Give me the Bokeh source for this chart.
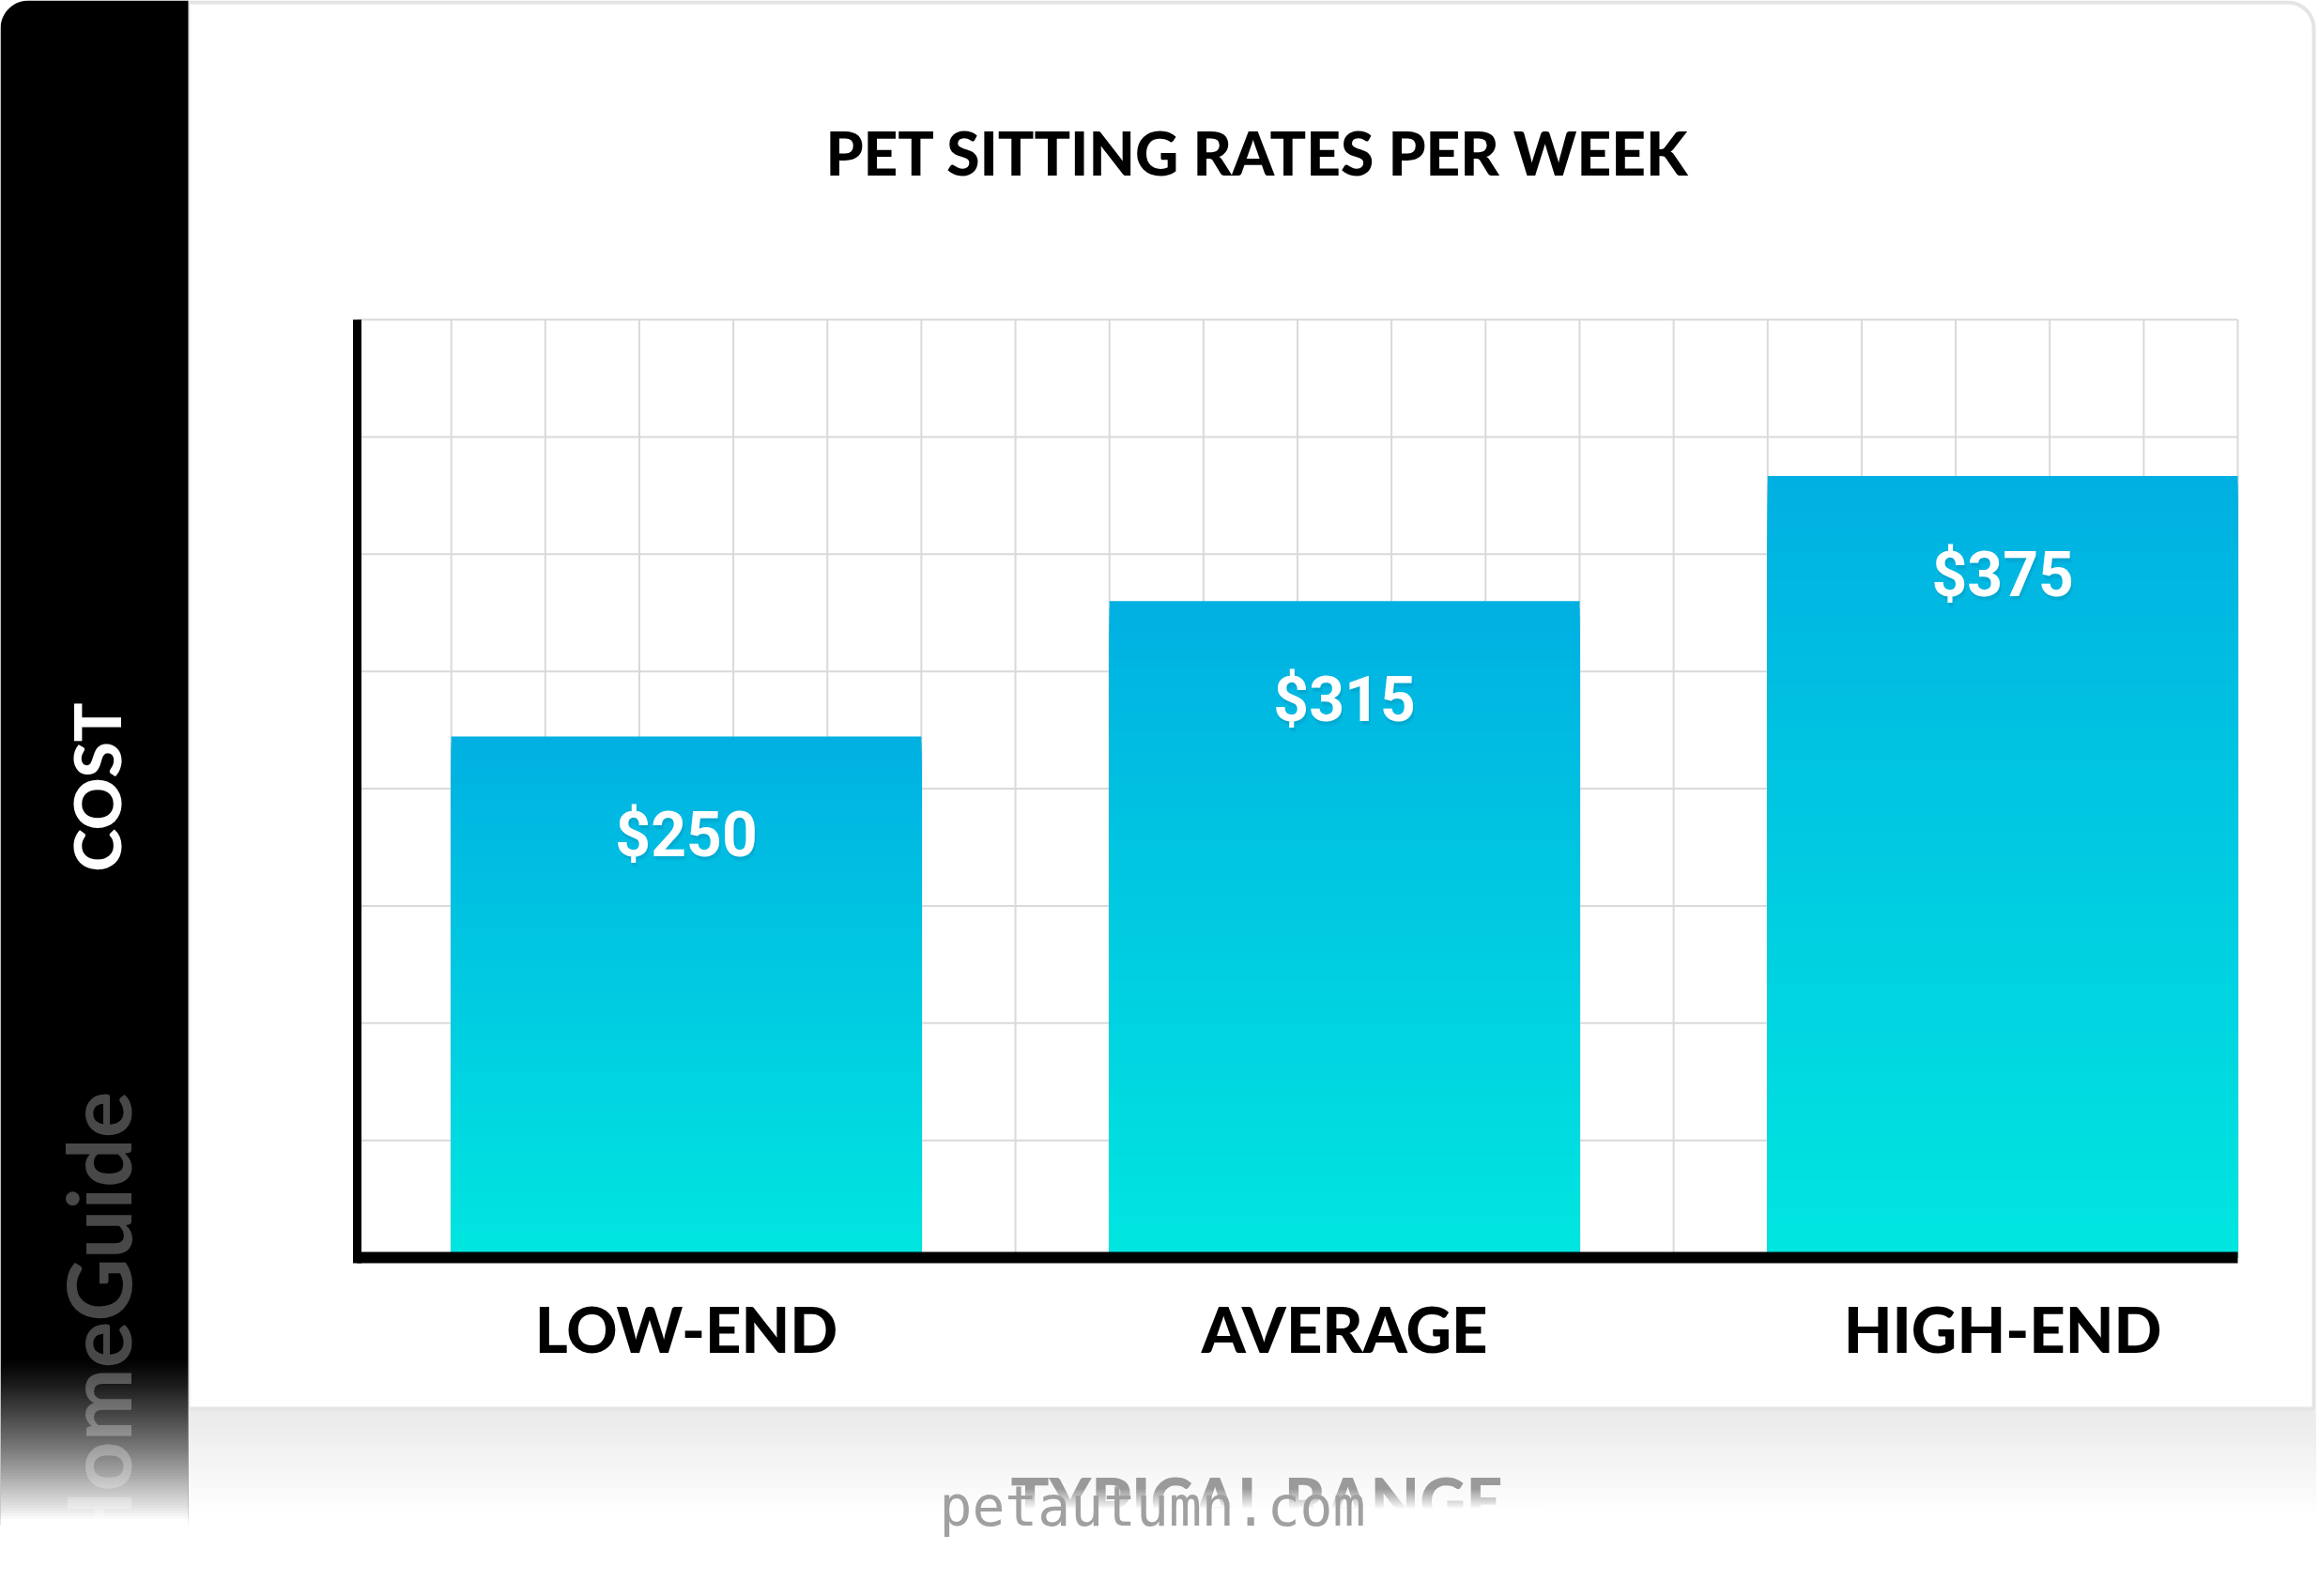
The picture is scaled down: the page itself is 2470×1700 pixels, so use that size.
import numpy as np
from bokeh.plotting import figure
from bokeh.models import Range1d
from bokeh.core.properties import value
from bokeh.embed import file_html
from bokeh.resources import INLINE

# ---- chart content ----
categories = ["LOW-END", "AVERAGE", "HIGH-END"]
costs = [250, 315, 375]
chart_title = "PET SITTING RATES PER WEEK"
axis_title = "COST"
range_title = "TYPICAL RANGE"
brand = "HomeGuide"
site = "petautumn.com"
y_max = 450
y_divisions = 8

# ---- page layout (px, measured from the top-left corner) ----
W, H = 2470, 1700
PANEL_W = 200
CARD_R = 2464
CARD_B = 1500
PLOT_L, PLOT_R, PLOT_T, PLOT_B = 380, 2383, 340, 1339
SLOT = 7        # grid columns per category
BAR_COLS = 5    # grid columns covered by a bar
n_cols = SLOT * len(categories) - 1

BAR_TOP = (0, 176, 226)
BAR_BOTTOM = (0, 230, 224)
GRID = "#d9d9d9"
HEAD_FONT = value("Lato Black")
BRAND_FONT = value("Lato")
NUM_FONT = value("Roboto")


def mix(c0, c1, t):
    return "#%02x%02x%02x" % tuple(int(round(a + (b - a) * t)) for a, b in zip(c0, c1))


def white_ramp(x0, x1, y0, y1, y_end, steps, power=1.0):
    """White veil whose opacity rises from 0 at y0 to 1 at y1 (overlapping layers, no seams)."""
    ys = np.linspace(y0, y1, steps + 1)[1:]
    target = np.linspace(0, 1, steps + 1)[1:] ** power
    prev = np.concatenate([[0.0], target[:-1]])
    alpha = np.where(target >= 1, 1.0, 1 - (1 - target) / (1 - prev))
    p.quad(left=x0, right=x1, top=ys - (y1 - y0) / steps, bottom=y_end,
           fill_color="white", fill_alpha=list(alpha), line_color=None)


p = figure(width=W, height=H, x_range=Range1d(0, W), y_range=Range1d(H, 0),
           output_backend="svg", toolbar_location=None, min_border=0,
           x_axis_location=None, y_axis_location=None,
           background_fill_color="white", border_fill_color="white",
           outline_line_color=None)
p.grid.visible = False

# chart coordinates: x in grid columns, y in dollars
ux = (PLOT_R - PLOT_L) / n_cols
uy = (PLOT_B - PLOT_T) / y_max
p.extra_x_ranges = {"cx": Range1d(-PLOT_L / ux, (W - PLOT_L) / ux)}
p.extra_y_ranges = {"cy": Range1d(-(H - PLOT_B) / uy, PLOT_B / uy)}
chart = dict(x_range_name="cx", y_range_name="cy")

# ---- card and its soft reflection (overlapping layers, lighter further down) ----
band_tops = np.arange(CARD_B, 1616, 4)
p.quad(left=PANEL_W, right=CARD_R + 2, top=band_tops, bottom=1620,
       fill_color=[mix((234,) * 3, (255,) * 3, t) for t in np.linspace(0, 1, len(band_tops))],
       line_color=None)

r = 28
t = np.linspace(1.5 * np.pi, 2 * np.pi, 16)
card_x = [PANEL_W] + list(CARD_R - r + r * np.cos(t)) + [CARD_R, PANEL_W]
card_y = [2] + list(2 + r + r * np.sin(t)) + [CARD_B, CARD_B]
p.patch(card_x, card_y, fill_color="white", line_color="#e4e4e4", line_width=4)

# ---- black side panel ----
r = 30
t = np.linspace(np.pi, 1.5 * np.pi, 16)
pan_x = list(r + r * np.cos(t)) + [PANEL_W, PANEL_W, 0]
pan_y = list(r + r * np.sin(t)) + [0, 1624, 1624]
p.patch(pan_x, pan_y, fill_color="black", line_color=None)

p.text(x=[102], y=[838], text=[axis_title], angle=np.pi / 2,
       text_align="center", text_baseline="middle", text_color="white",
       text_font=HEAD_FONT, text_font_size="69px")
p.text(x=[103], y=[1162], text=[brand], angle=np.pi / 2,
       text_align="right", text_baseline="alphabetic", text_color="#484848",
       text_font=BRAND_FONT, text_font_style="bold", text_font_size="93px")

# fade of the panel into the page
white_ramp(0, PANEL_W, 1448, 1620, H, 60, power=1.1)

# ---- grid ----
col_ticks = np.arange(1, n_cols + 1)
row_ticks = np.linspace(0, y_max, y_divisions + 1)[1:]
p.segment(x0=col_ticks, y0=0, x1=col_ticks, y1=y_max, line_color=GRID, line_width=2, **chart)
p.segment(x0=0, y0=row_ticks, x1=n_cols, y1=row_ticks, line_color=GRID, line_width=2, **chart)

# ---- bars with a vertical gradient (stacked shrinking layers) ----
centers = [SLOT * i + SLOT / 2 for i in range(len(categories))]
layers = 90
lefts, rights, tops, fills = [], [], [], []
for k in range(layers):
    f = k / layers
    for c, v in zip(centers, costs):
        lefts.append(c - BAR_COLS / 2)
        rights.append(c + BAR_COLS / 2)
        tops.append(v * (1 - f))
        fills.append(mix(BAR_TOP, BAR_BOTTOM, f + 0.5 / layers))
p.quad(left=lefts, right=rights, top=tops, bottom=0, fill_color=fills, line_color=None, **chart)

# ---- axis lines ----
p.segment(x0=0, y0=y_max, x1=0, y1=-6 / uy, line_color="black", line_width=9, **chart)
p.segment(x0=0, y0=0, x1=n_cols, y1=0, line_color="black", line_width=12, **chart)

# ---- value labels ----
labels = [f"${v}" for v in costs]
for dx, dy, a in [(1, 3, 0.10), (2, 5, 0.08)]:
    p.text(x=centers, y=costs, text=labels, x_offset=dx, y_offset=105 + dy,
           text_align="center", text_baseline="middle", text_color="#005f80", text_alpha=a,
           text_font=NUM_FONT, text_font_style="bold", text_font_size="66px", **chart)
p.text(x=centers, y=costs, text=labels, y_offset=105,
       text_align="center", text_baseline="middle", text_color="white",
       text_font=NUM_FONT, text_font_style="bold", text_font_size="66px", **chart)

# ---- category labels ----
p.text(x=centers, y=[0] * len(categories), text=categories, y_offset=75,
       text_align="center", text_baseline="middle", text_color="black",
       text_font=HEAD_FONT, text_font_size="67px", **chart)

# ---- title ----
p.text(x=[1339], y=[162], text=[chart_title], text_align="center", text_baseline="middle",
       text_color="black", text_font=HEAD_FONT, text_font_size="64px")

# ---- faded range caption under the card ----
p.text(x=[1339], y=[1597], text=[range_title], text_align="center", text_baseline="middle",
       text_color="#9a9a9a", text_font=HEAD_FONT, text_font_size="68px")
white_ramp(1040, 1640, 1586, 1608, 1650, 11)

# ---- site mark ----
p.text(x=[1000], y=[1604], text=[site], text_align="left", text_baseline="middle",
       text_color="#a0a0a0", text_font=value("DejaVu Sans Mono"), text_font_size="58px")

open("out.html", "w").write(file_html(p, INLINE))
